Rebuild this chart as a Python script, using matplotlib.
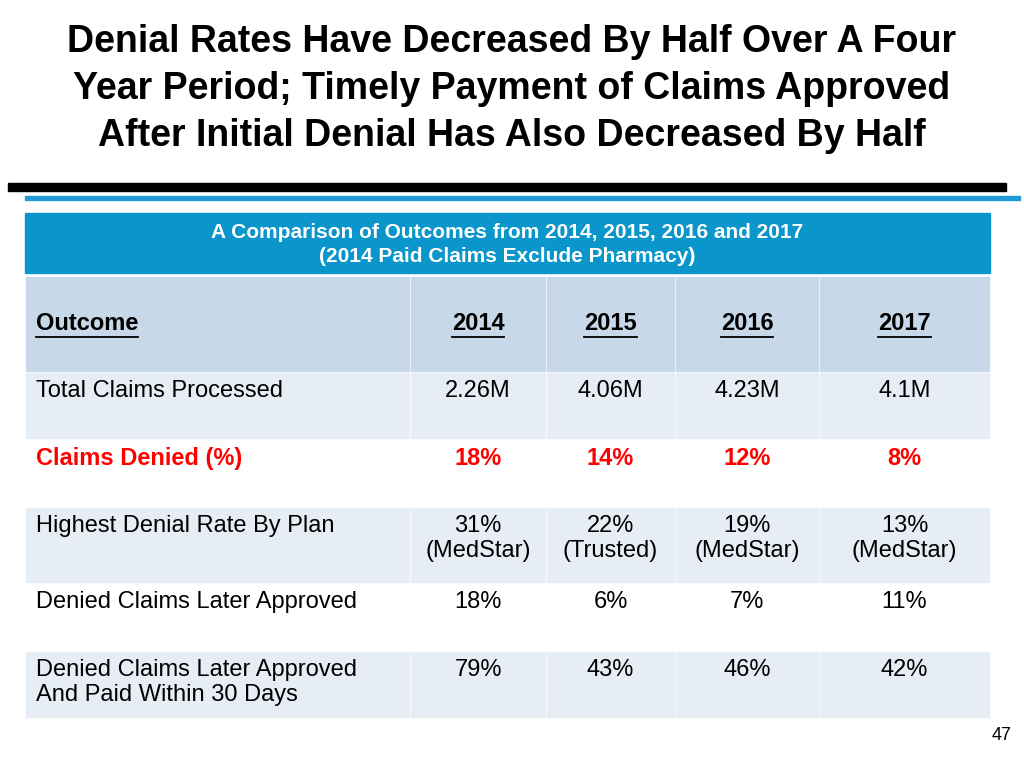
import matplotlib
matplotlib.use("Agg")
import matplotlib.pyplot as plt
from matplotlib.patches import Rectangle

plt.rcParams['font.family'] = ['Liberation Sans', 'DejaVu Sans']

title_lines = ["Denial Rates Have Decreased By Half Over A Four",
               "Year Period; Timely Payment of Claims Approved",
               "After Initial Denial Has Also Decreased By Half"]
header = ["A Comparison of Outcomes from 2014, 2015, 2016 and 2017",
          "(2014 Paid Claims Exclude Pharmacy)"]
columns = ["Outcome", "2014", "2015", "2016", "2017"]
row_labels = ["Total Claims Processed", "Claims Denied (%)",
              "Highest Denial Rate By Plan", "Denied Claims Later Approved",
              "Denied Claims Later Approved\nAnd Paid Within 30 Days"]
values = [["2.26M", "4.06M", "4.23M", "4.1M"],
          ["18%", "14%", "12%", "8%"],
          ["31%\n(MedStar)", "22%\n(Trusted)", "19%\n(MedStar)", "13%\n(MedStar)"],
          ["18%", "6%", "7%", "11%"],
          ["79%", "43%", "46%", "42%"]]
page_number = "47"

fig = plt.figure(figsize=(10.24, 7.68), dpi=100)
ax = fig.add_axes([0, 0, 1, 1])
ax.set_xlim(0, 1024); ax.set_ylim(768, 0); ax.axis('off')

for i, t in enumerate(title_lines):
    ax.text(512, 42 + i * 47, t, ha='center', va='center', fontsize=27, fontweight='bold')
ax.add_patch(Rectangle((8, 183), 998, 8, color='black'))
ax.add_patch(Rectangle((25, 196), 995, 4, color='#1E9BD7'))

# header band
ax.add_patch(Rectangle((25, 213), 965, 60, color='#0A96CA'))
ax.text(507, 232, header[0], ha='center', va='center', fontsize=15, fontweight='bold', color='white')
ax.text(507, 257, header[1], ha='center', va='center', fontsize=15, fontweight='bold', color='white')

xs = [25, 410, 546, 675, 819, 990]
rows_y = [(277, 371), (373, 438), (440, 505), (508, 582), (584, 648), (652, 717)]
fills = ['#C7D9E8', '#E6EDF5', '#FFFFFF', '#E6EDF5', '#FFFFFF', '#E6EDF5']
for r, (y0, y1) in enumerate(rows_y):
    for c in range(5):
        ax.add_patch(Rectangle((xs[c] + 1, y0), xs[c + 1] - xs[c] - 2, y1 - y0, color=fills[r]))

# column headers
yc = 324
for c, name in enumerate(columns):
    x = 36 if c == 0 else (xs[c] + xs[c + 1]) / 2
    t = ax.text(x, yc, name, ha='left' if c == 0 else 'center', va='center',
                fontsize=17, fontweight='bold')
    # underline
    fig.canvas.draw()
    bb = t.get_window_extent()
    ax.plot([bb.x0, bb.x1], [yc + 13, yc + 13], color='black', lw=1.3)

for r in range(5):
    y0 = rows_y[r + 1][0] + 7
    red = (r == 1)
    kw = dict(fontsize=17, va='top', color='#FF0000' if red else 'black',
              fontweight='bold' if red else 'normal', linespacing=1.15)
    ax.text(36, y0, row_labels[r], ha='left', **kw)
    for c in range(4):
        ax.text((xs[c + 1] + xs[c + 2]) / 2, y0, values[r][c], ha='center', **kw)

ax.text(1012, 735, page_number, ha='right', va='center', fontsize=13)
fig.savefig("out.png", dpi=100)
